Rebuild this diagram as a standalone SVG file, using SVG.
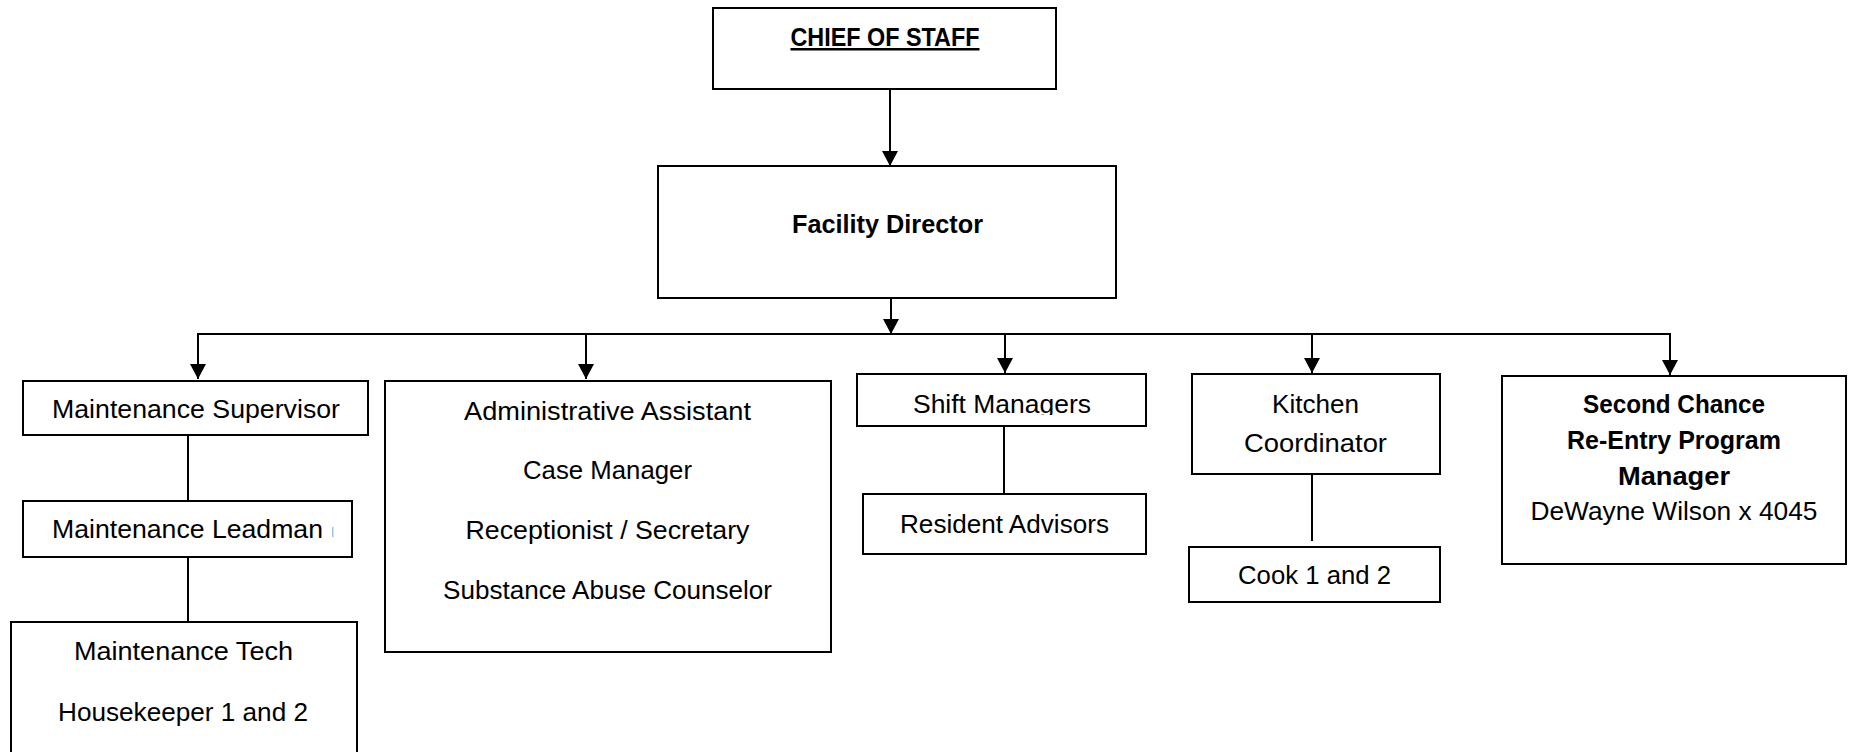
<svg xmlns="http://www.w3.org/2000/svg" width="1849" height="752" viewBox="0 0 1849 752">
<style>
.box{fill:#fff;stroke:#000;stroke-width:2}
.ln{fill:none;stroke:#000;stroke-width:2}
.t{font-family:"Liberation Sans",Arial,sans-serif;font-size:25px;fill:#000;text-anchor:middle}
.b{font-weight:bold}
</style>
<defs>
<marker id="ah" markerUnits="userSpaceOnUse" markerWidth="16" markerHeight="16" refX="15" refY="8" orient="auto">
<path d="M0,0 L15,8 L0,16 Z" fill="#000"/>
</marker>
<clipPath id="smclip"><rect x="857" y="374" width="289" height="41"/></clipPath>
</defs>
<rect width="1849" height="752" fill="#fff"/>
<g id="connectors">
<line class="ln" x1="890" y1="89" x2="890" y2="166" marker-end="url(#ah)"/>
<line class="ln" x1="891" y1="298" x2="891" y2="334" marker-end="url(#ah)"/>
<line class="ln" x1="197" y1="334" x2="1671" y2="334"/>
<line class="ln" x1="198" y1="334" x2="198" y2="379" marker-end="url(#ah)"/>
<line class="ln" x1="586" y1="334" x2="586" y2="379" marker-end="url(#ah)"/>
<line class="ln" x1="1005" y1="334" x2="1005" y2="373" marker-end="url(#ah)"/>
<line class="ln" x1="1312" y1="334" x2="1312" y2="373" marker-end="url(#ah)"/>
<line class="ln" x1="1670" y1="334" x2="1670" y2="375" marker-end="url(#ah)"/>
<line class="ln" x1="188" y1="435" x2="188" y2="501"/>
<line class="ln" x1="188" y1="557" x2="188" y2="622"/>
<line class="ln" x1="1004" y1="426" x2="1004" y2="494"/>
<line class="ln" x1="1312" y1="474" x2="1312" y2="541"/>
</g>
<g id="chief-of-staff">
<rect class="box" x="713" y="8" width="343" height="81"/>
<text class="t b" x="885" y="46" textLength="189" lengthAdjust="spacingAndGlyphs" text-decoration="underline">CHIEF OF STAFF</text>
</g>
<g id="facility-director">
<rect class="box" x="658" y="166" width="458" height="132"/>
<text class="t b" x="887.5" y="233" textLength="191" lengthAdjust="spacingAndGlyphs">Facility Director</text>
</g>
<g id="maintenance-supervisor">
<rect class="box" x="23" y="381" width="345" height="54"/>
<text class="t" x="196" y="418" textLength="288" lengthAdjust="spacingAndGlyphs">Maintenance Supervisor</text>
</g>
<g id="maintenance-leadman">
<rect class="box" x="23" y="501" width="329" height="56"/>
<text class="t" x="187.5" y="538" textLength="271" lengthAdjust="spacingAndGlyphs">Maintenance Leadman</text>
<rect x="332" y="527" width="1.5" height="10" fill="#9dc3e6"/>
</g>
<g id="maintenance-tech">
<rect class="box" x="11" y="622" width="346" height="140"/>
<text class="t" x="183.5" y="660" textLength="219" lengthAdjust="spacingAndGlyphs">Maintenance Tech</text>
<text class="t" x="183" y="721" textLength="250" lengthAdjust="spacingAndGlyphs">Housekeeper 1 and 2</text>
</g>
<g id="administrative">
<rect class="box" x="385" y="381" width="446" height="271"/>
<text class="t" x="607.5" y="420" textLength="287" lengthAdjust="spacingAndGlyphs">Administrative Assistant</text>
<text class="t" x="607.5" y="479" textLength="169" lengthAdjust="spacingAndGlyphs">Case Manager</text>
<text class="t" x="607.5" y="539" textLength="284" lengthAdjust="spacingAndGlyphs">Receptionist / Secretary</text>
<text class="t" x="607.5" y="599" textLength="329" lengthAdjust="spacingAndGlyphs">Substance Abuse Counselor</text>
</g>
<g id="shift-managers">
<rect class="box" x="857" y="374" width="289" height="52"/>
<text class="t" x="1002" y="413" textLength="178" lengthAdjust="spacingAndGlyphs" clip-path="url(#smclip)">Shift Managers</text>
</g>
<g id="resident-advisors">
<rect class="box" x="863" y="494" width="283" height="60"/>
<text class="t" x="1004.5" y="533" textLength="209" lengthAdjust="spacingAndGlyphs">Resident Advisors</text>
</g>
<g id="kitchen-coordinator">
<rect class="box" x="1192" y="374" width="248" height="100"/>
<text class="t" x="1315.5" y="413" textLength="87" lengthAdjust="spacingAndGlyphs">Kitchen</text>
<text class="t" x="1315.5" y="452" textLength="143" lengthAdjust="spacingAndGlyphs">Coordinator</text>
</g>
<g id="cook">
<rect class="box" x="1189" y="547" width="251" height="55"/>
<text class="t" x="1314.5" y="584" textLength="153" lengthAdjust="spacingAndGlyphs">Cook 1 and 2</text>
</g>
<g id="second-chance">
<rect class="box" x="1502" y="376" width="344" height="188"/>
<text class="t b" x="1674" y="413" textLength="182" lengthAdjust="spacingAndGlyphs">Second Chance</text>
<text class="t b" x="1674" y="449" textLength="214" lengthAdjust="spacingAndGlyphs">Re-Entry Program</text>
<text class="t b" x="1674" y="485" textLength="112" lengthAdjust="spacingAndGlyphs">Manager</text>
<text class="t" x="1674" y="520" textLength="287" lengthAdjust="spacingAndGlyphs">DeWayne Wilson x 4045</text>
</g>
</svg>
